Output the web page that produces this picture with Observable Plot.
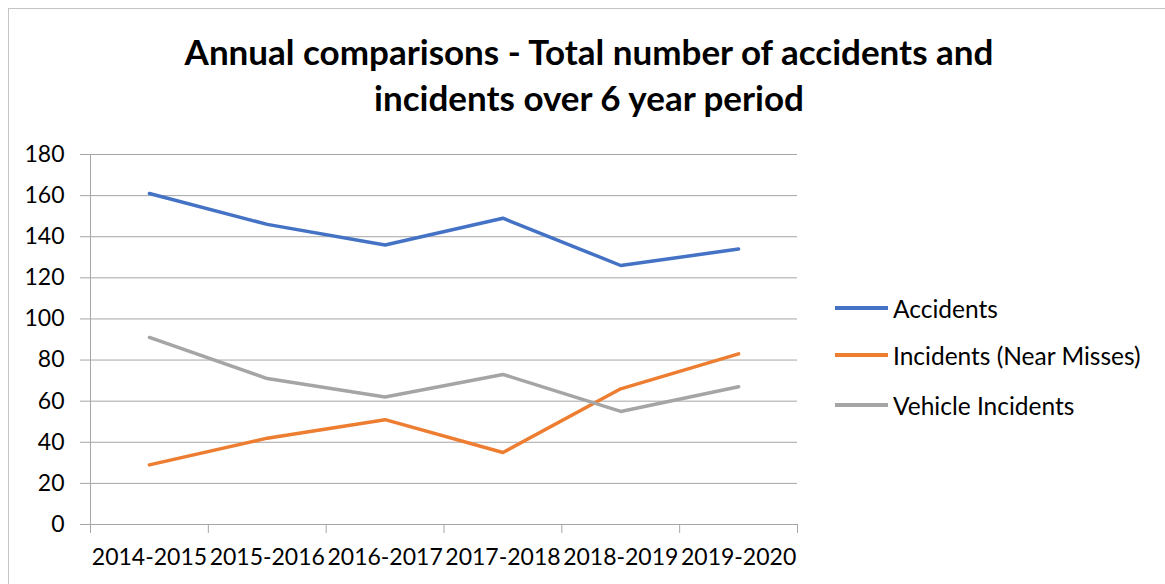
<!DOCTYPE html>
<html><head><meta charset="utf-8">
<script src="https://cdn.jsdelivr.net/npm/d3@7"></script>
<script src="https://cdn.jsdelivr.net/npm/@observablehq/plot@0.6"></script>
<style>
body{margin:0;background:#fff;font-family:Lato,"Open Sans",sans-serif;color:#000;width:1165px;height:584px;overflow:hidden;position:relative}
#frame{position:absolute;left:8px;top:8px;width:1300px;height:700px;border-left:1px solid #c4c4c4;border-top:1px solid #c4c4c4}
#title{position:absolute;left:0;top:28px;width:1178px;text-align:center;font-weight:bold;font-size:35px;line-height:46px}
#chart{position:absolute;left:0;top:130px}
.lg{position:absolute;left:835px;height:30px;display:flex;align-items:center;font-size:24.5px;white-space:nowrap}
.lg span.sw{display:inline-block;width:53px;height:3.5px;margin-right:5px}
</style></head>
<body>
<div id="frame"></div>
<div id="title">Annual comparisons - Total number of accidents and<br>incidents over 6 year period</div>
<div id="chart"></div>
<div id="legend"></div>
<script>
const years = ["2014-2015","2015-2016","2016-2017","2017-2018","2018-2019","2019-2020"];
const accidents = [161,146,136,149,126,134];
const nearMisses = [29,42,51,35,66,83];
const vehicle = [91,71,62,73,55,67];
const seriesNames = ["Accidents","Incidents (Near Misses)","Vehicle Incidents"];
const seriesColors = ["#4472C4","#ED7D31","#A5A5A5"];
const yTicks = [0,20,40,60,80,100,120,140,160,180];

const seriesValues = [accidents, nearMisses, vehicle];
const rows = [];
seriesValues.forEach((vals, s) => vals.forEach((v, i) => rows.push({series: seriesNames[s], pos: i + 0.5, year: years[i], value: v})));

const chart = Plot.plot({
  width: 1165,
  height: 454,
  marginTop: 24,
  marginBottom: 60,
  marginLeft: 90,
  marginRight: 368,
  style: {fontFamily: "Lato, 'Open Sans', sans-serif", fontSize: "23px", color: "#000", background: "transparent", overflow: "visible"},
  x: {type: "linear", domain: [0, years.length], axis: null, label: null},
  y: {domain: [0, 180], axis: null, label: null},
  color: {domain: seriesNames, range: seriesColors},
  marks: [
    Plot.gridY(yTicks, {stroke: "#a6a6a6", strokeOpacity: 1, strokeWidth: 1}),
    Plot.ruleX([0], {stroke: "#a6a6a6", strokeWidth: 1}),
    Plot.axisY(yTicks, {label: null, tickSize: 10, tickPadding: 16, stroke: "#a6a6a6", fill: "#000", fontSize: 23}),
    Plot.axisX(d3.range(years.length + 1), {label: null, tickSize: 9, tickFormat: () => "", stroke: "#a6a6a6"}),
    Plot.axisX(d3.range(years.length).map(i => i + 0.5), {label: null, tickSize: 0, tickPadding: 24, tickFormat: d => years[Math.floor(d)], fill: "#000", fontSize: 23}),
    Plot.line(rows, {x: "pos", y: "value", z: "series", stroke: "series", strokeWidth: 3.5, strokeLinejoin: "round", strokeLinecap: "round"})
  ]
});
document.getElementById("chart").appendChild(chart);

const legend = document.getElementById("legend");
const legendTops = [293, 340, 390];
seriesNames.forEach((name, i) => {
  const row = document.createElement("div");
  row.className = "lg";
  row.style.top = legendTops[i] + "px";
  row.innerHTML = `<span class="sw" style="background:${seriesColors[i]}"></span><span>${name}</span>`;
  legend.appendChild(row);
});
</script>
</body></html>
